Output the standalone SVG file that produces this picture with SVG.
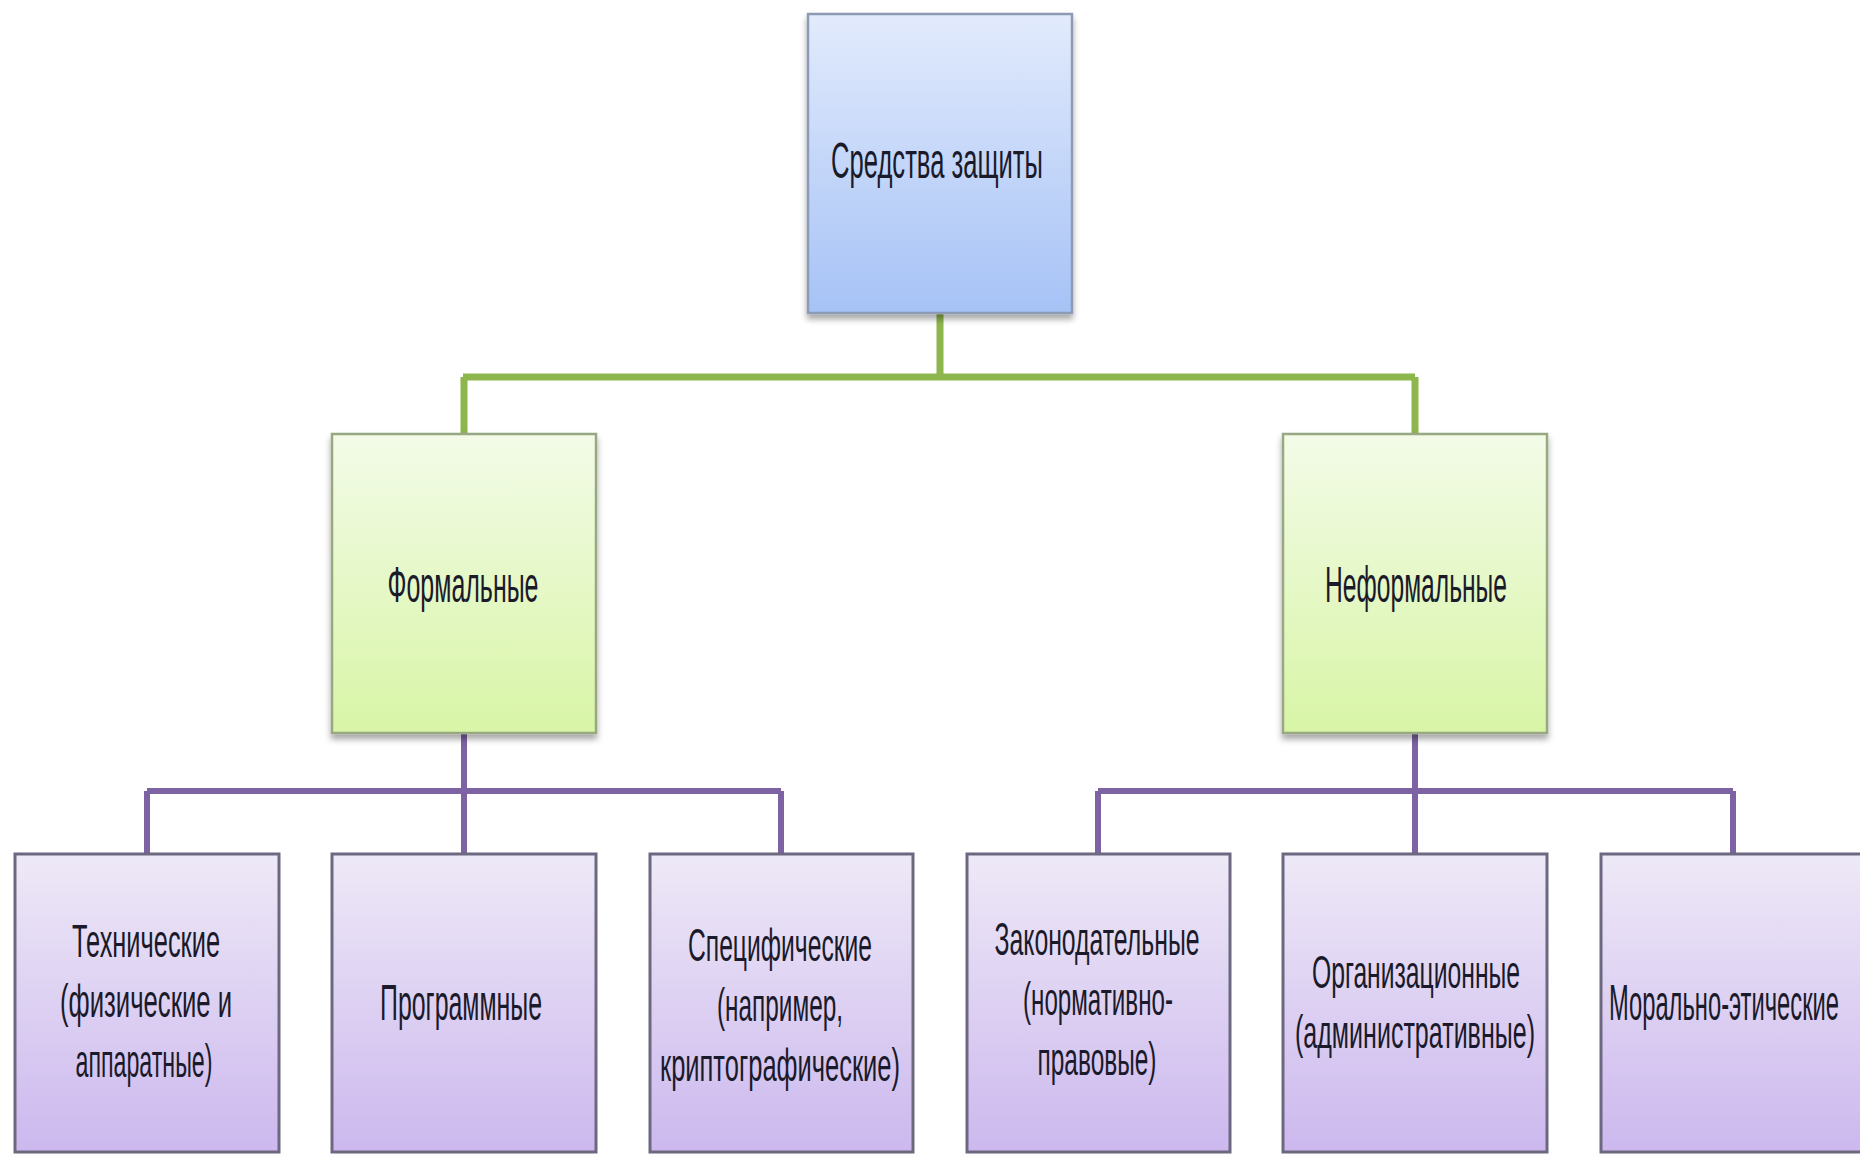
<svg xmlns="http://www.w3.org/2000/svg" width="1860" height="1154" viewBox="0 0 1860 1154">
<defs>
<linearGradient id="gBlue" x1="0" y1="0" x2="0" y2="1"><stop offset="0" stop-color="#e2ebfc"/><stop offset="1" stop-color="#a6c2f6"/></linearGradient>
<linearGradient id="gGreen" x1="0" y1="0" x2="0" y2="1"><stop offset="0" stop-color="#f3fbe8"/><stop offset="1" stop-color="#d8f5a6"/></linearGradient>
<linearGradient id="gPurple" x1="0" y1="0" x2="0" y2="1"><stop offset="0" stop-color="#eee9f7"/><stop offset="1" stop-color="#ccb8ee"/></linearGradient>
<filter id="sh" x="-10%" y="-10%" width="120%" height="125%"><feDropShadow dx="0" dy="5" stdDeviation="3" flood-color="#000" flood-opacity="0.35"/></filter>
<style>
.lbl{font-family:"Liberation Sans Narrow","Liberation Sans",Arial,sans-serif;font-size:50px;fill:#1a1a2a;text-anchor:middle}
.ml{font-size:46px}
.gl{stroke:#8db64d;stroke-width:7;fill:none}
.pl{stroke:#7d63a3;stroke-width:6;fill:none}
.bb{fill:url(#gBlue);stroke:#8c9ab4;stroke-width:2.5;filter:url(#sh)}
.gb{fill:url(#gGreen);stroke:#98a882;stroke-width:2.5;filter:url(#sh)}
.pb{fill:url(#gPurple);stroke:#6c6880;stroke-width:3}
</style>
</defs>
<rect width="1860" height="1154" fill="#ffffff"/>
<g id="connectors">
<path class="gl" d="M940 313 V377 M463 377 H1415 M464 377 V434 M1415 377 V434"/>
<path class="pl" d="M464 733 V791 M147 791 H781 M147 791 V854 M464 791 V854 M781 791 V854"/>
<path class="pl" d="M1415 733 V791 M1098 791 H1733 M1098 791 V854 M1415 791 V854 M1733 791 V854"/>
</g>
<g id="root">
<rect class="bb" x="808" y="14" width="264" height="299"/>
<text class="lbl" x="937" y="178" textLength="212" lengthAdjust="spacingAndGlyphs">Средства  защиты</text>
</g>
<g id="formal">
<rect class="gb" x="332" y="434" width="264" height="299"/>
<text class="lbl" x="463" y="602" textLength="151" lengthAdjust="spacingAndGlyphs">Формальные</text>
</g>
<g id="informal">
<rect class="gb" x="1283" y="434" width="264" height="299"/>
<text class="lbl" x="1416" y="602" textLength="182" lengthAdjust="spacingAndGlyphs">Неформальные</text>
</g>
<g id="technical">
<rect class="pb" x="15" y="854" width="264" height="298"/>
<text class="lbl ml" x="146" y="957" textLength="148" lengthAdjust="spacingAndGlyphs">Технические</text>
<text class="lbl ml" x="146" y="1017" textLength="172" lengthAdjust="spacingAndGlyphs">(физические  и</text>
<text class="lbl ml" x="144" y="1077" textLength="137" lengthAdjust="spacingAndGlyphs">аппаратные)</text>
</g>
<g id="software">
<rect class="pb" x="332" y="854" width="264" height="298"/>
<text class="lbl" x="461" y="1020" textLength="162" lengthAdjust="spacingAndGlyphs">Программные</text>
</g>
<g id="specific">
<rect class="pb" x="650" y="854" width="263" height="298"/>
<text class="lbl ml" x="780" y="961" textLength="184" lengthAdjust="spacingAndGlyphs">Специфические</text>
<text class="lbl ml" x="780" y="1021" textLength="126" lengthAdjust="spacingAndGlyphs">(например,</text>
<text class="lbl ml" x="780" y="1081" textLength="240" lengthAdjust="spacingAndGlyphs">криптографические)</text>
</g>
<g id="legislative">
<rect class="pb" x="967" y="854" width="263" height="298"/>
<text class="lbl ml" x="1097" y="955" textLength="205" lengthAdjust="spacingAndGlyphs">Законодательные</text>
<text class="lbl ml" x="1098" y="1015" textLength="150" lengthAdjust="spacingAndGlyphs">(нормативно-</text>
<text class="lbl ml" x="1097" y="1075" textLength="119" lengthAdjust="spacingAndGlyphs">правовые)</text>
</g>
<g id="organizational">
<rect class="pb" x="1283" y="854" width="264" height="298"/>
<text class="lbl ml" x="1416" y="988" textLength="208" lengthAdjust="spacingAndGlyphs">Организационные</text>
<text class="lbl ml" x="1415" y="1048" textLength="240" lengthAdjust="spacingAndGlyphs">(административные)</text>
</g>
<g id="moral">
<rect class="pb" x="1601" y="854" width="263" height="298"/>
<text class="lbl" x="1724" y="1020" textLength="230" lengthAdjust="spacingAndGlyphs">Морально-этические</text>
</g>
</svg>
